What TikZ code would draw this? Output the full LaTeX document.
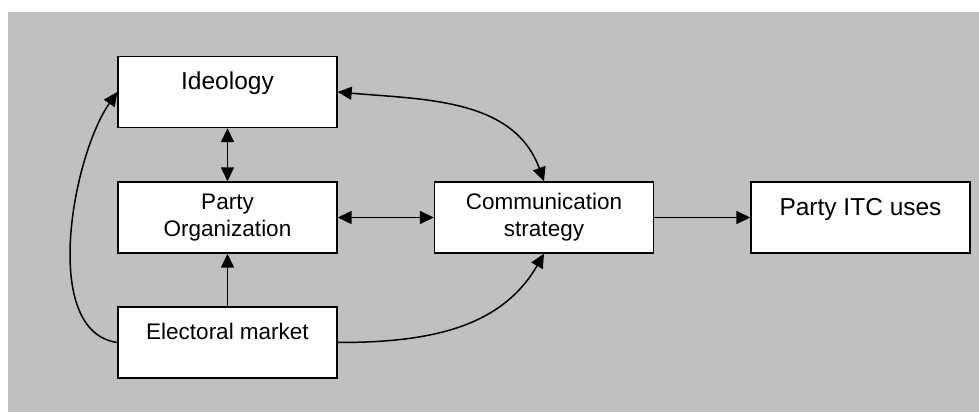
\documentclass[tikz,border=0pt]{standalone}
\usepackage{fontspec}
\setmainfont{Liberation Sans}
\usetikzlibrary{arrows.meta}
\definecolor{panelgray}{HTML}{C0C0C0}
\begin{document}
\begin{tikzpicture}[x = 1pt, y = 1pt]
		\tikzstyle{every node} = [font = \fontsize{22.5}{27}\selectfont]
		\tikzstyle{box} = [draw, fill = white, line width = 1.4pt, minimum width = 219pt, minimum height = 71pt, align = center, inner sep = 0pt]
		\tikzstyle{uptext} = [text depth = 22pt]
		\tikzstyle{bigtext} = [font = \fontsize{24.5}{29}\selectfont]
		\tikzstyle{link} = [line width = 1.5pt, -{Triangle[length = 14pt, width = 13pt]}]
		\tikzstyle{twolink} = [line width = 1.5pt, {Triangle[length = 14pt, width = 13pt]}-{Triangle[length = 14pt, width = 13pt]}]

		\useasboundingbox (0,0) rectangle (979,412);
		\fill [panelgray] (8,0) rectangle (979,400);

		\node [box, uptext, bigtext] (ideo) at (227.5,320) {Ideology};
		\node [box] (org) at (227.5,194.5) {Party\\Organization};
		\node [box, uptext] (market) at (227.5,69.5) {Electoral market};
		\node [box] (comm) at (544,194.5) {Communication\\strategy};
		\node [box, uptext, bigtext] (itc) at (860.5,194.5) {Party ITC uses};

		\draw [twolink] (ideo) -- (org); %ideology to organization
		\draw [twolink] (org) -- (comm);
		\draw [link] (comm) -- (itc);
		\draw [link] (market) -- (org);

		\draw [twolink] (ideo.east) to [out = -5, in = 110] (comm.north);
		\draw [link] (market.east) to [out = 0, in = -120] (comm.south);
		\draw [link] (market.west) to [out = 172, in = -125, looseness = .8] (ideo.west); %outer loop on the left
	\end{tikzpicture}
\end{document}
